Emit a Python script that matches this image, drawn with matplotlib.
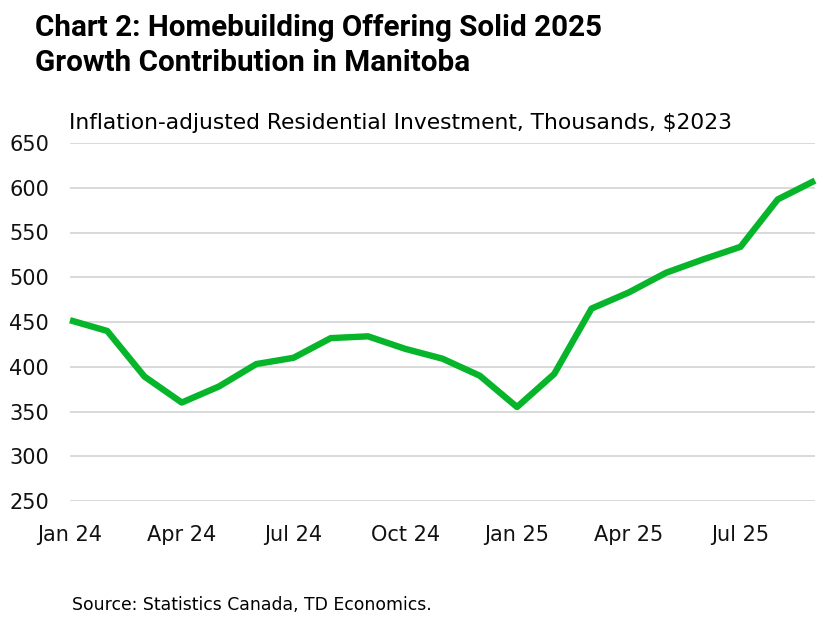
"""Manitoba residential investment line chart."""

import matplotlib
matplotlib.use("Agg")
import matplotlib.pyplot as plt

months = ["Jan 24", "Feb 24", "Mar 24", "Apr 24", "May 24", "Jun 24", "Jul 24",
          "Aug 24", "Sep 24", "Oct 24", "Nov 24", "Dec 24", "Jan 25", "Feb 25",
          "Mar 25", "Apr 25", "May 25", "Jun 25", "Jul 25", "Aug 25", "Sep 25"]
investment = [452, 440, 389, 360, 378, 403, 410, 432, 434, 420, 409, 390,
              355, 392, 465, 483, 505, 520, 534, 587, 608]
tick_every = 3
y_ticks = [250, 300, 350, 400, 450, 500, 550, 600, 650]

plt.rcParams["font.family"] = ["DejaVu Sans"]
title_font = ["Roboto", "DejaVu Sans"]

W, H = 827, 617
fig = plt.figure(figsize=(W / 100, H / 100), dpi=100)
ax = fig.add_axes([70 / W, 116 / H, 745 / W, 358 / H])

x = list(range(len(months)))
ax.plot(x, investment, color="#06b52a", linewidth=4.6, solid_joinstyle="round",
        solid_capstyle="butt", clip_on=False, zorder=3)

ax.set_xlim(0, len(months) - 1)
ax.set_ylim(y_ticks[0], y_ticks[-1])
ax.set_yticks(y_ticks)
ax.set_xticks(x[::tick_every])
ax.set_xticklabels(months[::tick_every])
ax.grid(axis="y", color="#d9d9d9", linewidth=1.4)
ax.set_axisbelow(True)
for s in ax.spines.values():
    s.set_visible(False)
ax.tick_params(axis="both", length=0, labelsize=15, colors="#111111")
ax.tick_params(axis="y", pad=15)
ax.tick_params(axis="x", pad=17)

fig.text(35 / W, 1 - 36 / H, "Chart 2: Homebuilding Offering Solid 2025",
         fontsize=21.3, fontweight="bold", family=title_font,
         ha="left", va="baseline")
fig.text(35 / W, 1 - 71 / H, "Growth Contribution in Manitoba",
         fontsize=21.3, fontweight="bold", family=title_font,
         ha="left", va="baseline")
fig.text(69 / W, 1 - 129 / H,
         "Inflation-adjusted Residential Investment, Thousands, $2023",
         fontsize=15.7, ha="left", va="baseline")
fig.text(72 / W, 1 - 610 / H, "Source: Statistics Canada, TD Economics.",
         fontsize=12.4, ha="left", va="baseline")

fig.savefig("out.png", dpi=100)
